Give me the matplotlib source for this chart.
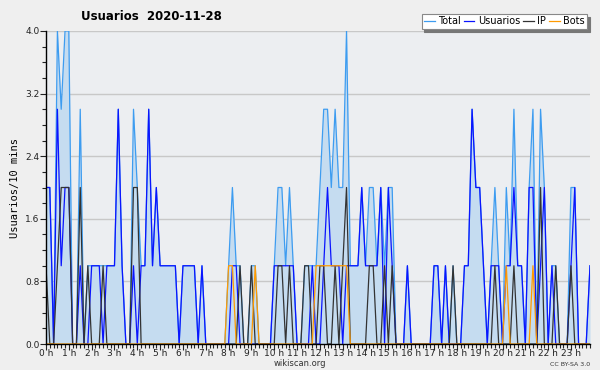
import numpy as np
import matplotlib
matplotlib.use("Agg")
import matplotlib.pyplot as plt
from matplotlib.ticker import MultipleLocator, FixedLocator

# one value every 10 minutes, 144 per day
usuarios = [2, 2, 0, 3, 1, 2, 2, 0, 0, 1,
            0, 0, 1, 1, 1, 0, 1, 1, 1, 3,
            1, 0, 0, 1, 0, 1, 1, 3, 1, 2,
            1, 1, 1, 1, 1, 0, 1, 1, 1, 1,
            0, 1, 0, 0, 0, 0, 0, 0, 0, 1,
            1, 0, 0, 0, 0, 0, 0, 0, 0, 0,
            1, 1, 1, 1, 1, 1, 0, 0, 0, 0,
            1, 0, 0, 1, 2, 1, 1, 1, 0, 1,
            1, 1, 1, 2, 1, 1, 1, 1, 2, 0,
            2, 1, 0, 0, 0, 1, 0, 0, 0, 0,
            0, 0, 1, 1, 0, 1, 0, 0, 0, 0,
            1, 1, 3, 2, 2, 1, 0, 1, 1, 1,
            0, 1, 1, 2, 1, 1, 0, 2, 2, 0,
            1, 2, 0, 1, 0, 0, 0, 0, 1, 2,
            0, 0, 0, 1]

ip = [1, 0, 0, 1, 2, 2, 2, 0, 0, 2,
      0, 1, 0, 0, 0, 1, 0, 0, 0, 0,
      0, 0, 0, 2, 2, 0, 0, 0, 0, 0,
      0, 0, 0, 0, 0, 0, 0, 0, 0, 0,
      0, 0, 0, 0, 0, 0, 0, 0, 0, 0,
      0, 1, 0, 0, 1, 0, 0, 0, 0, 0,
      0, 1, 1, 0, 1, 0, 0, 0, 1, 1,
      0, 0, 1, 1, 0, 0, 1, 0, 1, 2,
      0, 0, 0, 0, 0, 1, 1, 0, 0, 1,
      0, 1, 0, 0, 0, 0, 0, 0, 0, 0,
      0, 0, 0, 0, 0, 0, 0, 1, 0, 0,
      0, 0, 0, 0, 0, 0, 0, 0, 1, 0,
      0, 0, 0, 1, 0, 0, 0, 0, 0, 0,
      2, 0, 0, 0, 1, 0, 0, 0, 1, 0,
      0, 0, 0, 0]

bots = [0, 0, 0, 0, 0, 0, 0, 0, 0, 0,
        0, 0, 0, 0, 0, 0, 0, 0, 0, 0,
        0, 0, 0, 0, 0, 0, 0, 0, 0, 0,
        0, 0, 0, 0, 0, 0, 0, 0, 0, 0,
        0, 0, 0, 0, 0, 0, 0, 0, 1, 1,
        0, 0, 0, 0, 0, 1, 0, 0, 0, 0,
        0, 0, 0, 0, 0, 0, 0, 0, 0, 0,
        0, 1, 1, 1, 1, 1, 1, 1, 1, 1,
        0, 0, 0, 0, 0, 0, 0, 0, 0, 0,
        0, 0, 0, 0, 0, 0, 0, 0, 0, 0,
        0, 0, 0, 0, 0, 0, 0, 0, 0, 0,
        0, 0, 0, 0, 0, 0, 0, 0, 0, 0,
        0, 1, 0, 0, 0, 0, 0, 0, 1, 0,
        0, 0, 0, 0, 0, 0, 0, 0, 0, 0,
        0, 0, 0, 0]

total = [2, 2, 0, 4, 3, 4, 4, 0, 0, 3,
         0, 1, 1, 1, 1, 1, 1, 1, 1, 3,
         1, 0, 0, 3, 2, 1, 1, 3, 1, 2,
         1, 1, 1, 1, 1, 0, 1, 1, 1, 1,
         0, 1, 0, 0, 0, 0, 0, 0, 1, 2,
         1, 1, 0, 0, 1, 1, 0, 0, 0, 0,
         1, 2, 2, 1, 2, 1, 0, 0, 1, 1,
         1, 1, 2, 3, 3, 2, 3, 2, 2, 4,
         1, 1, 1, 2, 1, 2, 2, 1, 2, 1,
         2, 2, 0, 0, 0, 1, 0, 0, 0, 0,
         0, 0, 1, 1, 0, 1, 0, 1, 0, 0,
         1, 1, 3, 2, 2, 1, 0, 1, 2, 1,
         0, 2, 1, 3, 1, 1, 0, 2, 3, 0,
         3, 2, 0, 1, 1, 0, 0, 0, 2, 2,
         0, 0, 0, 1]

hour_labels = ["%d h" % h for h in range(24)]
title = "Usuarios  2020-11-28"

hours = np.arange(len(total)) / 6.0

fig = plt.figure(figsize=(6, 3.7), dpi=100, facecolor="#efefef")
ax = fig.add_axes([46 / 600, 1 - 344 / 370, 544 / 600, 313 / 370])
ax.set_facecolor("#eceef1")

ax.fill_between(hours, total, 0, color="#c5dcf0", lw=0)
ax.plot(hours, total, color="#3d9cf0", lw=0.9, label="Total")
ax.plot(hours, usuarios, color="#0a14ff", lw=0.9, label="Usuarios")
ax.plot(hours, ip, color="#333333", lw=0.9, label="IP")
ax.plot(hours, bots, color="#ff9a00", lw=0.9, label="Bots")

ax.set_xlim(0, hours[-1])
ax.set_ylim(0, 4.0)

yt = np.arange(0, 4.01, 0.8)
ax.set_yticks(yt)
ax.set_yticklabels(["%.1f" % v for v in yt])
ax.yaxis.set_minor_locator(MultipleLocator(0.2))
ax.xaxis.set_major_locator(FixedLocator(range(24)))
ax.set_xticklabels(hour_labels)
ax.xaxis.set_minor_locator(MultipleLocator(1 / 6))

ax.grid(axis="y", color="#c8c8c8", lw=1.0)
ax.set_axisbelow(True)
ax.tick_params(axis="both", which="major", labelsize=6.5, length=4, width=0.8,
               colors="#222222")
ax.tick_params(axis="x", which="major", pad=-0.5)
ax.tick_params(axis="y", which="major", pad=0.5)
ax.tick_params(axis="both", which="minor", length=3, width=0.8, color="#222222")
for side in ("top", "right"):
    ax.spines[side].set_visible(False)
ax.spines["left"].set_linewidth(1.0)
ax.spines["bottom"].set_linewidth(1.0)

ax.set_ylabel("Usuarios/10 mins", family="DejaVu Sans Mono", fontsize=7.5,
              labelpad=4)

fig.text(151 / 600, 1 - 17 / 370, title, ha="center", va="center",
         fontsize=8.5, fontweight="bold")
fig.text(300 / 600, 1 - 363 / 370, "wikiscan.org", ha="center", va="center",
         fontsize=6, color="#333333")
fig.text(570 / 600, 1 - 364 / 370, "CC BY-SA 3.0", ha="center", va="center",
         fontsize=4.5, color="#333333")

leg = ax.legend(loc="upper right", bbox_to_anchor=(587 / 600, 1 - 14 / 370),
                bbox_transform=fig.transFigure, ncol=4, fontsize=7,
                frameon=True, fancybox=False,
                shadow={"color": "#777777", "alpha": 1, "ox": 2, "oy": -2},
                handlelength=1.1, handletextpad=0.35, columnspacing=0.3,
                borderpad=0.25, borderaxespad=0)
leg.get_frame().set_edgecolor("#888888")
leg.get_frame().set_facecolor("white")
leg.get_frame().set_linewidth(0.8)

fig.savefig("out.png", dpi=100, facecolor=fig.get_facecolor())
